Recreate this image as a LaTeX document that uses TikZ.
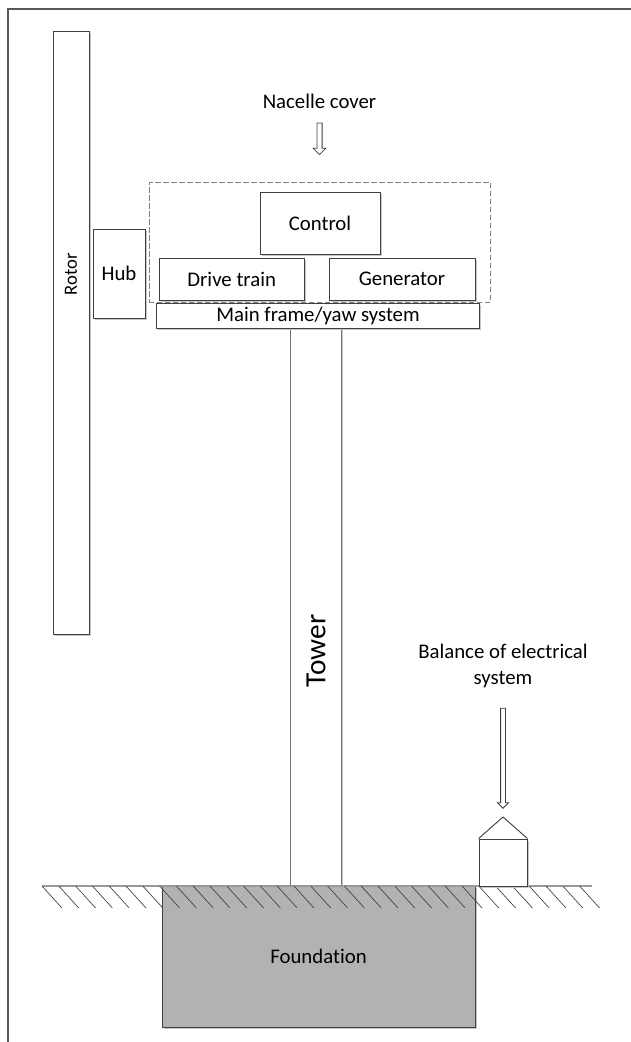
\documentclass[tikz,border=0pt]{standalone}
\usepackage{fontspec}
\setmainfont{Carlito}[Ligatures=NoCommon]
\usepackage{tikz}
\usetikzlibrary{positioning}
\usetikzlibrary{shapes.arrows}
\usetikzlibrary{shadows}
\newcommand{\pxu}{0.75pt}
\tikzset{part/.style={draw=black!75, fill=white, line width=0.7pt, inner sep=0pt, align=center,
	font=\fontsize{15.6}{19}\selectfont,
	drop shadow={shadow xshift=1.2pt, shadow yshift=-1.2pt, fill=black!22, opacity=1}},
	hollow/.style={single arrow, draw=black!75, fill=white, line width=0.6pt, inner xsep=0pt,
	rotate=-90, single arrow tip angle=90, minimum width=0pt},
	lbl/.style={inner sep=0pt, align=center, font=\fontsize{15.6}{19}\selectfont}}

\begin{document}
\begin{tikzpicture}[x=\pxu, y=-\pxu, pageframe/.style={draw=black!65, line width=1.5pt},
	hatch/.style={draw=black!75, line width=0.5pt}, cover/.style={draw=black!50, dash pattern=on 4pt off 2pt, line width=0.7pt}]
	\useasboundingbox (0,0) rectangle (631,1042);
	\draw[pageframe] (7.5,1060) -- (7.5,8.5) -- (650,8.5);
	\node (rotor) [part, minimum width=36*\pxu, minimum height=603*\pxu] at (71,332.5) {};
	\node (rotorlbl) [lbl, rotate=90, font=\fontsize{14}{17}\selectfont] at (71,274) {Rotor};
	\node (hub) [part, minimum width=52*\pxu, minimum height=89*\pxu] at (119,273.5) {Hub};
	\node (nacelle) [cover, minimum width=341.7*\pxu, minimum height=120*\pxu] at (320,242.7) {};
	\node (control) [part, minimum width=120*\pxu, minimum height=62*\pxu] at (320,223.3) {Control};
	\node (drive) [part, minimum width=145.3*\pxu, minimum height=41.7*\pxu] at (231.7,279.2) {Drive train};
	\node (gen) [part, minimum width=146*\pxu, minimum height=41.7*\pxu] at (402,279.2) {Generator};
	\node (tower) [part, draw=black!55, minimum width=51.7*\pxu, minimum height=557.7*\pxu] at (315.9,607.2) {};
	\node (towerlbl) [lbl, rotate=90, font=\fontsize{22}{26}\selectfont] at (316,651) {Tower};
	\node (mainframe) [part, minimum width=322.6*\pxu, minimum height=25*\pxu] at (318,315.8) {Main frame/yaw system};
	\node (covarrow) [hollow, minimum height=23.7pt, inner ysep=1.65pt, single arrow head extend=2.85pt] at (319.5,137.5) {};
	\node (covtxt) [lbl, above=10pt of covarrow.tail] {Nacelle cover};
	\node (found) [part, fill=black!30, minimum width=313*\pxu, minimum height=141*\pxu] at (318.5,956.5) {Foundation};
	\draw[draw=black!40, line width=1pt] (42,886) coordinate (gl) -- (592,886) coordinate (gr);
	\foreach \i in {0,...,32}
		\draw[hatch] ({42+\i*16.8},886) -- ++(20,22);
	\node (house) [part, minimum width=48*\pxu, minimum height=47*\pxu] at (503,862.5) {};
	\coordinate (rooftop) at (503,817);
	\draw[draw=black!75, line width=0.7pt] (house.north west) -- (rooftop) -- (house.north east);
	\node (balarrow) [hollow, minimum height=75pt, inner ysep=1.5pt, single arrow head extend=2.25pt] at (503,757) {};
	\node (baltxt) [lbl, above=15pt of balarrow.tail] {Balance of electrical\\system};
\end{tikzpicture}
\end{document}
